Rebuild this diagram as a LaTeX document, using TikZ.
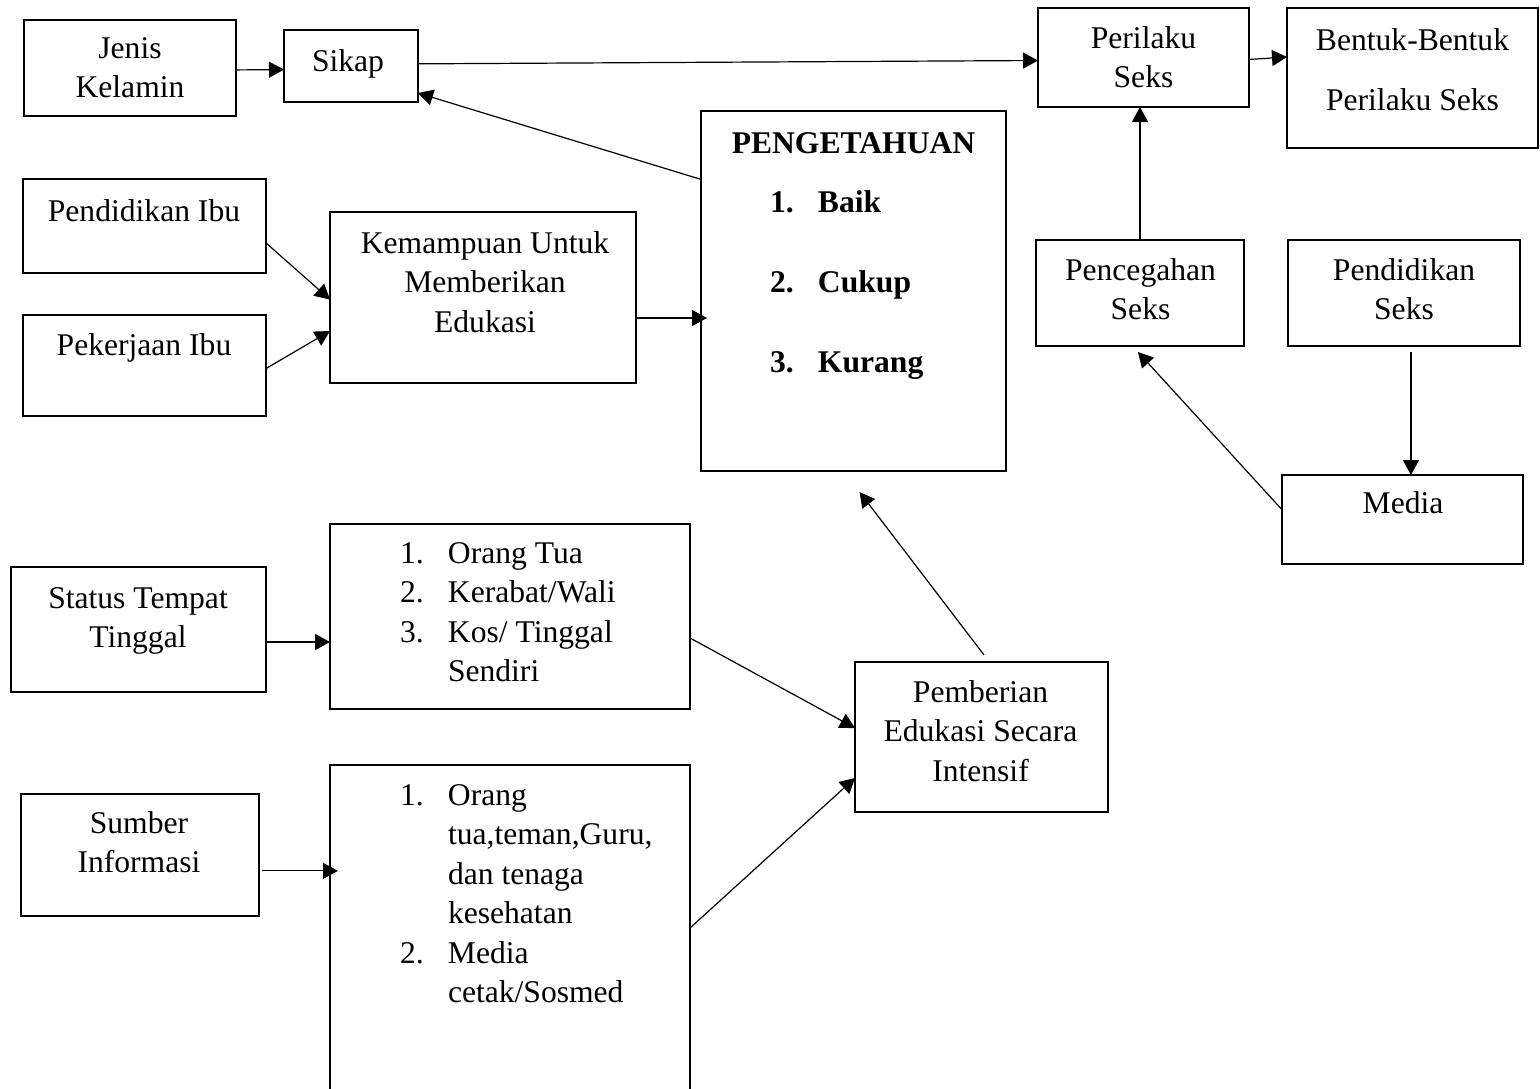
\documentclass[tikz,border=0pt]{standalone}
\usepackage{fontspec}
\setmainfont{Liberation Serif}
\usetikzlibrary{arrows.meta,calc}
\newcommand\dfs{\fontsize{15.8pt}{19.75pt}\selectfont}
\newcommand\lit[2]{\makebox[24pt][l]{#1}#2}
\begin{document}
\begin{tikzpicture}[x=0.5pt,y=-0.5pt,
  box/.style={draw, line width=1pt, inner sep=0pt, outer sep=0pt},
  txt/.style={inner sep=0pt, outer sep=0pt, align=center, font=\dfs},
  lst/.style={inner sep=0pt, outer sep=0pt, align=left, font=\dfs, anchor=west},
  arr/.style={line width=0.6pt, -{Triangle[length=7.5pt,width=8pt]}}]
\useasboundingbox[fill=white] (0,0) rectangle (1540,1088);

% boxes
\node[box, minimum width=106pt, minimum height=48pt] (jk) at (130,68) {};
\node[box, minimum width=67pt, minimum height=36pt] (sikap) at (351,66) {};
\node[box, minimum width=105.5pt, minimum height=49.5pt] (perilaku) at (1143.5,57.5) {};
\node[box, minimum width=125.5pt, minimum height=70pt] (bentuk) at (1412.5,78) {};
\node[box, minimum width=152.5pt, minimum height=180pt] (penget) at (853.5,291) {};
\node[box, minimum width=121.5pt, minimum height=47pt] (pibu) at (144.5,226) {};
\node[box, minimum width=121.5pt, minimum height=50.5pt] (kibu) at (144.5,365.5) {};
\node[box, minimum width=153pt, minimum height=85.5pt] (kemamp) at (483,297.5) {};
\node[box, minimum width=104pt, minimum height=53pt] (pencegah) at (1140,293) {};
\node[box, minimum width=116pt, minimum height=53pt] (pseks) at (1404,293) {};
\node[box, minimum width=120.5pt, minimum height=44.5pt] (media) at (1402.5,519.5) {};
\node[box, minimum width=127.5pt, minimum height=62.5pt] (status) at (138.5,629.5) {};
\node[box, minimum width=180pt, minimum height=92.5pt] (list1) at (510,616.5) {};
\node[box, minimum width=126.5pt, minimum height=75pt] (pemb) at (981.5,737) {};
\node[box, minimum width=119pt, minimum height=61pt] (sumber) at (140,855) {};
\node[box, minimum width=180pt, minimum height=172.5pt] (list2) at (510,937.5) {};

% texts
\node[txt] (jkt) at (130,70.3) {\strut Jenis\\\strut Kelamin};
\node[txt] (sikapt) at (348,63.1) {\strut Sikap};
\node[txt] (perilakut) at (1143.5,60.3) {\strut Perilaku\\\strut Seks};
\node[txt] (bentukt) at (1412.5,72.1) {\strut Bentuk-Bentuk\\[10.25pt]\strut Perilaku Seks};
\node[txt, font=\dfs\bfseries] (pengett) at (853.5,145.1) {\strut PENGETAHUAN};
\node[lst, font=\dfs\bfseries] (pengetl) at (770,284.1) {\strut\lit{1.}{Baik}\\[20.25pt]\strut\lit{2.}{Cukup}\\[20.25pt]\strut\lit{3.}{Kurang}};
\node[txt] (pibut) at (144,213.1) {\strut Pendidikan Ibu};
\node[txt] (kibut) at (144,347.1) {\strut Pekerjaan Ibu};
\node[txt] (kemampt) at (485,284.6) {\strut Kemampuan Untuk\\\strut Memberikan\\\strut Edukasi};
\node[txt] (pencegaht) at (1140.5,291.9) {\strut Pencegahan\\\strut Seks};
\node[txt] (psekst) at (1404,291.9) {\strut Pendidikan\\\strut Seks};
\node[txt] (mediat) at (1403,505.1) {\strut Media};
\node[txt] (statust) at (138,619.9) {\strut Status Tempat\\\strut Tinggal};
\node[lst] (list1t) at (400,614.4) {\strut\lit{1.}{Orang Tua}\\\strut\lit{2.}{Kerabat/Wali}\\\strut\lit{3.}{Kos/ Tinggal}\\\strut\hspace*{24pt}Sendiri};
\node[txt] (pembt) at (980.5,733.6) {\strut Pemberian\\\strut Edukasi Secara\\\strut Intensif};
\node[txt] (sumbert) at (139,844.9) {\strut Sumber\\\strut Informasi};
\node[lst] (list2t) at (400,895.9) {\strut\lit{1.}{Orang}\\\strut\hspace*{24pt}tua,teman,Guru,\\\strut\hspace*{24pt}dan tenaga\\\strut\hspace*{24pt}kesehatan\\\strut\lit{2.}{Media}\\\strut\hspace*{24pt}cetak/Sosmed};

% connectors
\draw[arr] ($(jk.north east)!0.52!(jk.south east)$) -- ($(sikap.north west)!0.55!(sikap.south west)$);
\draw[arr] ($(sikap.north east)!0.47!(sikap.south east)$) -- ([yshift=-1.5pt]perilaku.west);
\draw[arr] ($(penget.north west)!0.19!(penget.south west)$) -- ($(sikap.north east)!0.875!(sikap.south east)$);
\draw[arr] ($(perilaku.north east)!0.52!(perilaku.south east)$) -- ($(bentuk.north west)!0.35!(bentuk.south west)$);
\draw[arr] (pencegah.north) -- (pencegah.north |- perilaku.south);
\draw[arr] ($(pibu.north east)!0.68!(pibu.south east)$) -- ($(kemamp.north west)!0.512!(kemamp.south west)$);
\draw[arr] ($(kibu.north east)!0.53!(kibu.south east)$) -- ($(kemamp.north west)!0.696!(kemamp.south west)$);
\draw[arr] ($(kemamp.north east)!0.62!(kemamp.south east)$) coordinate (k1) -- ([xshift=3pt]k1 -| penget.west);
\draw[arr] ($(pseks.south west)!0.53!(pseks.south east)+(0,6)$) coordinate (p1) -- (p1 |- media.north);
\draw[arr] ($(media.north west)!0.39!(media.south west)$) -- ($(pencegah.south west)!0.49!(pencegah.south east)+(0,6)$);
\draw[arr] ($(pemb.north west)!0.51!(pemb.north east)+(0,-7)$) -- ($(penget.south west)!0.52!(penget.south east)+(0,21)$);
\draw[arr] ($(status.north east)!0.6!(status.south east)$) coordinate (s1) -- (s1 -| list1.west);
\draw[arr] ($(list1.north east)!0.616!(list1.south east)$) -- ($(pemb.north west)!0.44!(pemb.south west)$);
\draw[arr] ($(sumber.north east)!0.63!(sumber.south east)+(3,0)$) coordinate (u1) -- ([xshift=4pt]u1 -| list2.west);
\draw[arr] ($(list2.north east)+(0,163)$) -- ($(pemb.north west)!0.773!(pemb.south west)$);
\end{tikzpicture}
\end{document}
